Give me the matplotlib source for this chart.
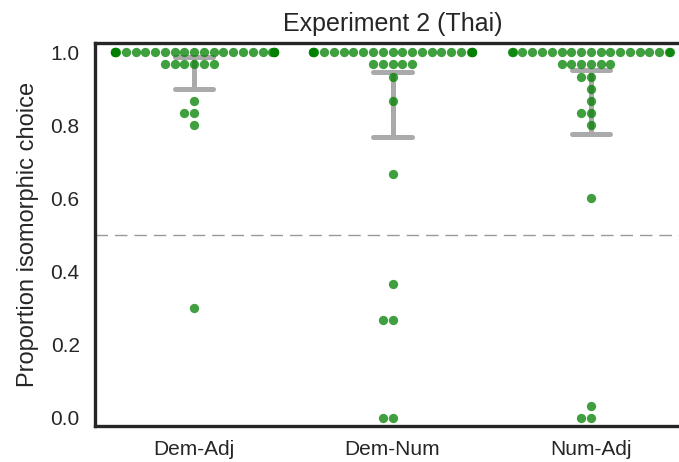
import matplotlib
matplotlib.use("Agg")
import matplotlib.pyplot as plt
import seaborn as sns
import pandas as pd
import warnings
warnings.filterwarnings("ignore")

plt.rcParams['font.family'] = ['Liberation Sans', 'DejaVu Sans']

categories = ["Dem-Adj", "Dem-Num", "Num-Adj"]

dem_adj = [1.0, 1.0, 1.0, 1.0, 1.0, 1.0, 1.0, 1.0, 1.0, 1.0,
           1.0, 1.0, 1.0, 1.0, 1.0, 1.0, 1.0, 1.0, 1.0, 1.0,
           1.0, 1.0, 1.0, 1.0, 1.0,
           0.967, 0.967, 0.967, 0.967, 0.967, 0.967,
           0.867, 0.833, 0.833, 0.8, 0.3]
dem_num = [1.0, 1.0, 1.0, 1.0, 1.0, 1.0, 1.0, 1.0, 1.0, 1.0,
           1.0, 1.0, 1.0, 1.0, 1.0, 1.0, 1.0, 1.0, 1.0, 1.0,
           1.0, 1.0, 1.0,
           0.967, 0.967, 0.967, 0.967, 0.967,
           0.933, 0.867, 0.667, 0.367, 0.267, 0.267, 0.0, 0.0]
num_adj = [1.0, 1.0, 1.0, 1.0, 1.0, 1.0, 1.0, 1.0, 1.0, 1.0,
           1.0, 1.0, 1.0, 1.0, 1.0, 1.0, 1.0, 1.0, 1.0,
           0.967, 0.967, 0.967, 0.967, 0.967, 0.967,
           0.933, 0.933, 0.9, 0.867, 0.833, 0.833, 0.8,
           0.6, 0.033, 0.0, 0.0]

ci_low = [0.899, 0.767, 0.775]
ci_high = [0.987, 0.946, 0.951]

yticks = [0.0, 0.2, 0.4, 0.6, 0.8, 1.0]
title = "Experiment 2 (Thai)"
ylabel = "Proportion isomorphic choice"

df = pd.DataFrame({
    "cond": [categories[0]] * len(dem_adj) + [categories[1]] * len(dem_num) + [categories[2]] * len(num_adj),
    "prop": dem_adj + dem_num + num_adj,
})

fig = plt.figure(figsize=(6.79, 4.62), dpi=100)
ax = fig.add_axes([95 / 679, 36 / 462, 595 / 679, 383 / 462])

# error bars (behind points)
gray = "#aaaaaa"
xs = list(range(len(categories)))
ax.vlines(xs, ci_low, ci_high, color=gray, lw=3.6, zorder=1, capstyle='round')
ax.hlines(ci_low, [x - 0.096 for x in xs], [x + 0.096 for x in xs], color=gray, lw=3.6,
          zorder=1, capstyle='round')
ax.hlines(ci_high, [x - 0.096 for x in xs], [x + 0.096 for x in xs], color=gray, lw=3.6,
          zorder=1, capstyle='round')

sns.swarmplot(data=df, x="cond", y="prop", order=categories, color="green", alpha=0.75,
              size=6.7, linewidth=0, ax=ax, zorder=3)

ax.axhline(0.5, color="#999999", lw=1.0, dashes=(9, 5), zorder=0)

ax.set_xlim(-0.5, 2.5)
ax.set_ylim(-0.0219, 1.0246)
ax.set_yticks(yticks)
ax.set_yticklabels([f"{v:.1f}" for v in yticks])
ax.set_xlabel("")
ax.set_ylabel(ylabel, fontsize=17, color="#262626", labelpad=8)
ax.set_title(title, fontsize=18, color="#262626", pad=9)
ax.tick_params(axis='both', length=0, labelsize=15, labelcolor="#262626")
ax.tick_params(axis='y', pad=11)
ax.tick_params(axis='x', pad=10)
for s in ax.spines.values():
    s.set_color("#262626")
    s.set_linewidth(2.4)

fig.savefig("out.png", dpi=100)
